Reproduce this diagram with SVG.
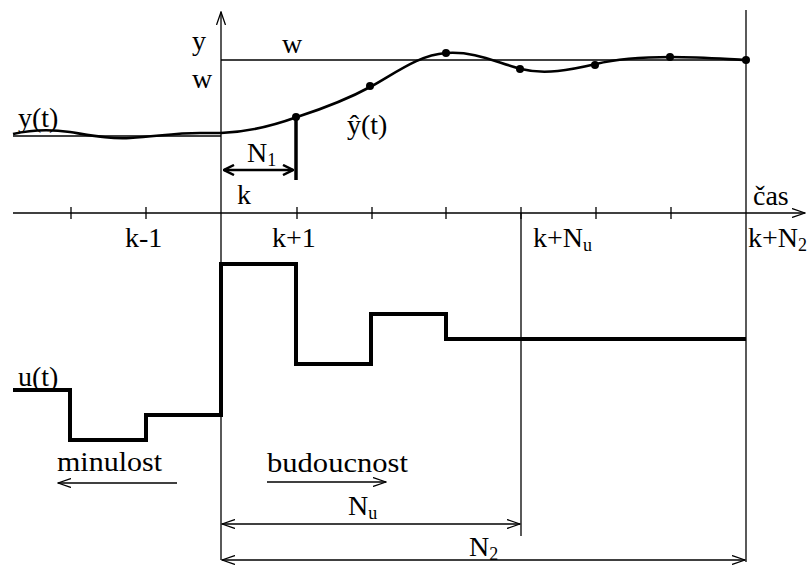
<svg xmlns="http://www.w3.org/2000/svg" width="810" height="567" viewBox="0 0 810 567">
<defs>
<style>
.t{font-family:"Liberation Serif","Times New Roman",serif;font-size:28px;fill:#000}
.s{font-size:18px}
.thin{stroke:#000;stroke-width:1.3;fill:none}
.bold{stroke:#000;stroke-width:4;fill:none;stroke-linejoin:miter}
</style>
<marker id="ae" viewBox="0 0 14 10" refX="13" refY="5" markerWidth="14" markerHeight="10" markerUnits="userSpaceOnUse" orient="auto-start-reverse">
<path d="M0,0.5 L13,5 L0,9.5" fill="none" stroke="#000" stroke-width="1.3"/>
</marker>
<marker id="ab" viewBox="0 0 12 12" refX="11" refY="6" markerWidth="12" markerHeight="12" markerUnits="userSpaceOnUse" orient="auto-start-reverse">
<path d="M1,1 L11,6 L1,11" fill="none" stroke="#000" stroke-width="2.5"/>
</marker>
</defs>
<rect width="810" height="567" fill="#fff"/>
<g id="connectors">
<line class="thin" x1="221" y1="560" x2="221" y2="12" marker-end="url(#ae)"/>
<line class="thin" x1="13" y1="213" x2="805" y2="213" marker-end="url(#ae)"/>
<g class="thin">
<line x1="71" y1="207" x2="71" y2="219"/>
<line x1="146" y1="207" x2="146" y2="219"/>
<line x1="297" y1="207" x2="297" y2="219"/>
<line x1="372" y1="207" x2="372" y2="219"/>
<line x1="446" y1="207" x2="446" y2="219"/>
<line x1="521" y1="207" x2="521" y2="219"/>
<line x1="596" y1="207" x2="596" y2="219"/>
<line x1="671" y1="207" x2="671" y2="219"/>
</g>
<line class="thin" x1="521" y1="213" x2="521" y2="536"/>
<line class="thin" x1="746" y1="10" x2="746" y2="562"/>
<line class="thin" x1="221" y1="60" x2="746" y2="60"/>
<line class="thin" x1="13" y1="136" x2="221" y2="136"/>
<path d="M13,134 C30,130 50,129 70,132 C95,136 110,139 130,138 C160,136 175,133 200,133 L221,133 C250,132 275,125 297,117 C325,108 350,98 372,86 C400,70 420,55 446,53 C475,51 495,62 521,69 C545,75 570,70 596,64 C620,58 645,57 671,57 C700,57 725,59 746,60" fill="none" stroke="#000" stroke-width="2.6"/>
<g fill="#000">
<circle cx="296" cy="117" r="4"/>
<circle cx="370" cy="86" r="4"/>
<circle cx="446" cy="53" r="4"/>
<circle cx="520" cy="69" r="4"/>
<circle cx="595" cy="65" r="4"/>
<circle cx="670" cy="57" r="4"/>
<circle cx="746" cy="60" r="4"/>
</g>
<line x1="296" y1="117" x2="296" y2="180" stroke="#000" stroke-width="3.5"/>
<line x1="224" y1="170" x2="293" y2="170" stroke="#000" stroke-width="2.5" marker-start="url(#ab)" marker-end="url(#ab)"/>
<polyline class="bold" points="13,390 70,390 70,440 146,440 146,415 221,415 221,264 296,264 296,364 371,364 371,314 446,314 446,339 746,339"/>
<line class="thin" x1="177" y1="483" x2="58" y2="483" marker-end="url(#ae)"/>
<line class="thin" x1="267" y1="482" x2="386" y2="482" marker-end="url(#ae)"/>
<line class="thin" x1="222" y1="524" x2="520" y2="524" marker-start="url(#ae)" marker-end="url(#ae)"/>
<line class="thin" x1="222" y1="560" x2="745" y2="560" marker-start="url(#ae)" marker-end="url(#ae)"/>
</g>
<g id="labels">
<text class="t" x="192" y="50">y</text>
<text class="t" x="192" y="88">w</text>
<text class="t" x="282" y="53">w</text>
<text class="t" x="18" y="127">y(t)</text>
<text class="t" x="347" y="134">ŷ(t)</text>
<text class="t" x="247" y="162">N<tspan class="s" dy="4">1</tspan></text>
<text class="t" x="237" y="204">k</text>
<text class="t" x="753" y="205">čas</text>
<text class="t" x="125" y="247">k-1</text>
<text class="t" x="272" y="247">k+1</text>
<text class="t" x="533" y="247">k+N<tspan class="s" dy="4">u</tspan></text>
<text class="t" x="748" y="247">k+N<tspan class="s" dy="4">2</tspan></text>
<text class="t" x="18" y="386">u(t)</text>
<text class="t" x="57" y="471" textLength="105" lengthAdjust="spacingAndGlyphs">minulost</text>
<text class="t" x="267" y="472" textLength="141" lengthAdjust="spacingAndGlyphs">budoucnost</text>
<text class="t" x="348" y="515">N<tspan class="s" dy="4">u</tspan></text>
<text class="t" x="469" y="556">N<tspan class="s" dy="4">2</tspan></text>
</g>
</svg>
